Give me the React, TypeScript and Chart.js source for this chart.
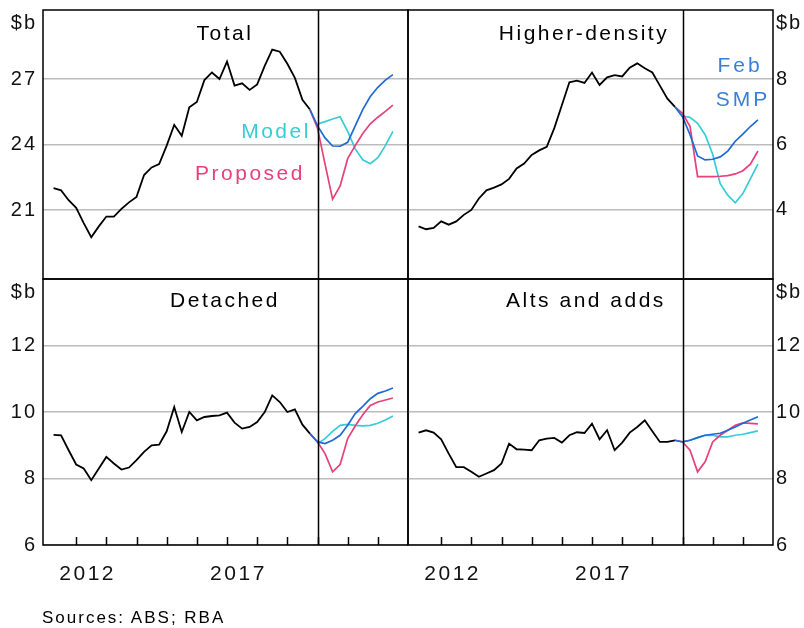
import React, { useEffect, useRef } from "react";
import { Chart, registerables } from "chart.js";

Chart.register(...registerables);

const FONT = '"Liberation Sans", Arial, Helvetica, sans-serif';
const BLUE = "#1f6ad4";
const BLUE_TEXT = "#3a7edc";
const RED = "#e6417a";
const CYAN = "#36cdd6";
const GRID = "#bcbcbc";
const INK = "#111111";

// ---------- data ----------
const histDates = [
  2011.25, 2011.5, 2011.75, 2012, 2012.25, 2012.5, 2012.75, 2013, 2013.25, 2013.5, 2013.75, 2014,
  2014.25, 2014.5, 2014.75, 2015, 2015.25, 2015.5, 2015.75, 2016, 2016.25, 2016.5, 2016.75, 2017,
  2017.25, 2017.5, 2017.75, 2018, 2018.25, 2018.5, 2018.75, 2019, 2019.25, 2019.5, 2019.75,
];
const forecastDates = [2019.75, 2020, 2020.25, 2020.5, 2020.75, 2021, 2021.25, 2021.5, 2021.75, 2022, 2022.25, 2022.5];

const totalHist = [
  22.0, 21.9, 21.45, 21.1, 20.4, 19.75, 20.25, 20.7, 20.7, 21.05, 21.35, 21.6, 22.6, 22.95, 23.1, 23.95,
  24.9, 24.4, 25.7, 25.95, 26.95, 27.3, 27.0, 27.8, 26.7, 26.8, 26.5, 26.75, 27.6, 28.35, 28.25, 27.7,
  27.05, 26.05, 25.6,
];
const totalFeb = [25.6, 24.85, 24.3, 23.93, 23.92, 24.1, 24.85, 25.6, 26.2, 26.62, 26.95, 27.2];
const totalProposed = [25.6, 24.75, 23.1, 21.5, 22.1, 23.35, 23.95, 24.5, 24.95, 25.25, 25.52, 25.8];
const totalModel = [null, 24.94, 25.05, 25.17, 25.27, 24.6, 23.8, 23.3, 23.12, 23.4, 23.95, 24.6];

const hdHist = [
  3.5, 3.41, 3.45, 3.65, 3.55, 3.65, 3.85, 4.0, 4.35, 4.6, 4.68, 4.78, 4.95, 5.27, 5.42, 5.68, 5.82, 5.93,
  6.5, 7.2, 7.9, 7.95, 7.88, 8.2, 7.82, 8.05, 8.12, 8.08, 8.35, 8.48, 8.33, 8.2, 7.8, 7.4, 7.15,
];
const hdFeb = [7.15, 6.85, 6.3, 5.65, 5.53, 5.55, 5.62, 5.8, 6.1, 6.32, 6.55, 6.75];
const hdProposed = [7.15, 6.95, 6.55, 5.02, 5.02, 5.02, 5.03, 5.05, 5.1, 5.2, 5.4, 5.8];
const hdModel = [null, 6.87, 6.83, 6.65, 6.3, 5.7, 4.8, 4.45, 4.22, 4.5, 4.95, 5.4];

const detHist = [
  9.31, 9.3, 8.85, 8.42, 8.3, 7.95, 8.3, 8.65, 8.45, 8.27, 8.33, 8.55, 8.8, 9.0, 9.02, 9.42, 10.15, 9.4,
  10.0, 9.75, 9.85, 9.88, 9.9, 9.98, 9.68, 9.5, 9.55, 9.7, 10.0, 10.5, 10.3, 10.0, 10.08, 9.62, 9.35,
];
const detFeb = [9.35, 9.1, 9.05, 9.15, 9.3, 9.6, 9.95, 10.17, 10.4, 10.56, 10.63, 10.72];
const detProposed = [9.35, 9.1, 8.75, 8.2, 8.42, 9.2, 9.58, 9.92, 10.2, 10.3, 10.36, 10.42];
const detModel = [null, 9.05, 9.2, 9.42, 9.6, 9.63, 9.6, 9.58, 9.6, 9.66, 9.76, 9.88];

const altsHist = [
  9.38, 9.45, 9.38, 9.18, 8.75, 8.34, 8.34, 8.2, 8.05, 8.15, 8.25, 8.45, 9.05, 8.88, 8.87, 8.85, 9.15, 9.2,
  9.22, 9.08, 9.3, 9.39, 9.37, 9.65, 9.18, 9.45, 8.85, 9.08, 9.38, 9.55, 9.75, 9.42, 9.1, 9.1, 9.15,
];
const altsFeb = [9.15, 9.1, 9.15, 9.23, 9.3, 9.33, 9.36, 9.45, 9.55, 9.66, 9.76, 9.86];
const altsProposed = [9.15, 9.1, 8.85, 8.2, 8.5, 9.1, 9.3, 9.45, 9.6, 9.67, 9.66, 9.64];
const altsModel = [null, 9.1, 9.15, 9.23, 9.3, 9.3, 9.25, 9.25, 9.3, 9.33, 9.38, 9.43];

const topLeftTicks = [21, 24, 27];
const topRightTicks = [4, 6, 8];
const bottomTicks = [6, 8, 10, 12];
const yearTicks = [2012, 2013, 2014, 2015, 2016, 2017, 2018, 2019, 2020, 2021, 2022];
const yearLabels = [2012, 2017];
const forecastStart = 2020;
const xMin = 2010.9;
const xMax = 2023.0;
const unitLabel = "$b";

// ---------- panels ----------
type Panel = {
  key: string;
  hist: number[];
  feb: number[];
  proposed: number[];
  model: (number | null)[];
  yMin: number;
  yMax: number;
  ticks: number[];
  side: "left" | "right";
  showYears: boolean;
  box: { left: number; top: number; width: number; height: number };
  pad: { left: number; right: number; top: number; bottom: number };
};

const panels: Panel[] = [
  {
    key: "total", hist: totalHist, feb: totalFeb, proposed: totalProposed, model: totalModel,
    yMin: 17.84, yMax: 30.16, ticks: topLeftTicks, side: "left", showYears: false,
    box: { left: 0, top: 0, width: 412, height: 284 }, pad: { left: 0, right: 4, top: 10, bottom: 5 },
  },
  {
    key: "hd", hist: hdHist, feb: hdFeb, proposed: hdProposed, model: hdModel,
    yMin: 1.89, yMax: 10.11, ticks: topRightTicks, side: "right", showYears: false,
    box: { left: 404, top: 0, width: 400, height: 284 }, pad: { left: 4, right: 0, top: 10, bottom: 5 },
  },
  {
    key: "det", hist: detHist, feb: detFeb, proposed: detProposed, model: detModel,
    yMin: 6, yMax: 14, ticks: bottomTicks, side: "left", showYears: true,
    box: { left: 0, top: 275, width: 412, height: 353 }, pad: { left: 0, right: 4, top: 4, bottom: 83 },
  },
  {
    key: "alts", hist: altsHist, feb: altsFeb, proposed: altsProposed, model: altsModel,
    yMin: 6, yMax: 14, ticks: bottomTicks, side: "right", showYears: true,
    box: { left: 404, top: 275, width: 400, height: 353 }, pad: { left: 4, right: 0, top: 4, bottom: 83 },
  },
];

const framePlugin = {
  id: "frame",
  beforeDraw(chart: any) {
    chart.ctx.letterSpacing = "2px";
  },
  afterDatasetsDraw(chart: any, _args: any, opts: any) {
    const { ctx, chartArea: a, scales } = chart;
    const xs = scales.x;
    ctx.save();
    ctx.strokeStyle = "#000";
    ctx.lineWidth = 1.5;
    ctx.strokeRect(a.left, a.top, a.right - a.left, a.bottom - a.top);
    const vx = Math.round(xs.getPixelForValue(forecastStart)) + 0.5;
    ctx.beginPath();
    ctx.moveTo(vx, a.top);
    ctx.lineTo(vx, a.bottom);
    ctx.stroke();
    if (opts.showYears) {
      ctx.lineWidth = 1.5;
      ctx.beginPath();
      for (const yr of yearTicks) {
        const px = Math.round(xs.getPixelForValue(yr)) + 0.5;
        ctx.moveTo(px, a.bottom);
        ctx.lineTo(px, a.bottom - 8);
      }
      ctx.stroke();
      ctx.fillStyle = INK;
      ctx.font = `21px ${FONT}`;
      ctx.letterSpacing = "2.5px";
      ctx.textAlign = "center";
      ctx.textBaseline = "middle";
      for (const yr of yearLabels) {
        ctx.fillText(String(yr), xs.getPixelForValue(yr + 0.38), a.bottom + 29);
      }
    }
    ctx.fillStyle = INK;
    ctx.font = `20px ${FONT}`;
    ctx.letterSpacing = "2px";
    ctx.textBaseline = "middle";
    if (opts.side === "left") {
      ctx.textAlign = "right";
      ctx.fillText(unitLabel, a.left - 6, a.top + 13.5);
    } else {
      ctx.textAlign = "left";
      ctx.fillText(unitLabel, a.right + 3, a.top + 13.5);
    }
    ctx.restore();
  },
  afterDraw(chart: any) {
    chart.ctx.letterSpacing = "0px";
  },
};

function buildConfig(p: Panel): any {
  const pts = (xs: number[], ys: (number | null)[]) => xs.map((x, i) => ({ x, y: ys[i] }));
  const line = (color: string, width: number) => ({
    borderColor: color,
    backgroundColor: color,
    borderWidth: width,
    pointRadius: 0,
    tension: 0,
    fill: false,
    spanGaps: false,
  });
  return {
    type: "line",
    data: {
      datasets: [
        { label: "Feb SMP", data: pts(forecastDates, p.feb), ...line(BLUE, 1.7) },
        { label: "Proposed", data: pts(forecastDates, p.proposed), ...line(RED, 1.7) },
        { label: "Model", data: pts(forecastDates, p.model), ...line(CYAN, 1.7) },
        { label: "Actual", data: pts(histDates, p.hist), ...line("#000", 1.8) },
      ],
    },
    options: {
      responsive: false,
      animation: false,
      devicePixelRatio: 1,
      layout: { padding: p.pad },
      plugins: {
        legend: { display: false },
        tooltip: { enabled: false },
        frame: { side: p.side, showYears: p.showYears },
      },
      scales: {
        x: { type: "linear", min: xMin, max: xMax, display: false },
        y: {
          type: "linear",
          position: p.side,
          min: p.yMin,
          max: p.yMax,
          afterBuildTicks: (s: any) => {
            s.ticks = p.ticks.map((v) => ({ value: v }));
          },
          afterFit: (s: any) => {
            s.width = p.side === "left" ? 43 : 31;
            s.paddingTop = 0;
            s.paddingBottom = 0;
          },
          grid: { color: GRID, lineWidth: 1.5, drawTicks: false },
          border: { display: false },
          ticks: {
            padding: p.side === "left" ? 6 : 3,
            color: INK,
            font: { family: FONT, size: 20 },
            callback: (v: any) => String(v),
            autoSkip: false,
          },
        },
      },
    },
    plugins: [framePlugin],
  };
}

function PanelChart({ p }: { p: Panel }) {
  const ref = useRef<HTMLCanvasElement>(null);
  useEffect(() => {
    const chart = new Chart(ref.current as HTMLCanvasElement, buildConfig(p));
    return () => chart.destroy();
  }, [p]);
  return (
    <canvas
      ref={ref}
      width={p.box.width}
      height={p.box.height}
      style={{ position: "absolute", left: p.box.left, top: p.box.top, width: p.box.width, height: p.box.height }}
    />
  );
}

type Note = { text: string; x: number; y: number; color: string; size: number; spacing: number; align?: "left" };
const notes: Note[] = [
  { text: "Total", x: 225, y: 32, color: "#000", size: 21, spacing: 2.5 },
  { text: "Model", x: 276, y: 130, color: CYAN, size: 21, spacing: 2.5 },
  { text: "Proposed", x: 250, y: 172, color: RED, size: 21, spacing: 2.5 },
  { text: "Higher-density", x: 584, y: 32, color: "#000", size: 21, spacing: 2.5 },
  { text: "Feb", x: 740, y: 64, color: BLUE_TEXT, size: 21, spacing: 3 },
  { text: "SMP", x: 743, y: 98, color: BLUE_TEXT, size: 21, spacing: 3 },
  { text: "Detached", x: 225, y: 299, color: "#000", size: 21, spacing: 2.5 },
  { text: "Alts and adds", x: 586, y: 299, color: "#000", size: 21, spacing: 2.5 },
  { text: "Sources: ABS; RBA", x: 42, y: 617, color: "#000", size: 17, spacing: 2, align: "left" },
];

export default function App() {
  return (
    <div style={{ position: "absolute", left: 0, top: 0, width: 804, height: 628, background: "#fff", overflow: "hidden" }}>
      {panels.map((p) => (
        <PanelChart key={p.key} p={p} />
      ))}
      {notes.map((n) => (
        <div
          key={n.text}
          style={{
            position: "absolute",
            left: n.x,
            top: n.y,
            transform: n.align === "left" ? "translate(0,-50%)" : "translate(-50%,-50%)",
            fontFamily: FONT,
            fontSize: n.size,
            letterSpacing: n.spacing,
            lineHeight: 1,
            color: n.color,
            whiteSpace: "nowrap",
          }}
        >
          {n.text}
        </div>
      ))}
    </div>
  );
}
